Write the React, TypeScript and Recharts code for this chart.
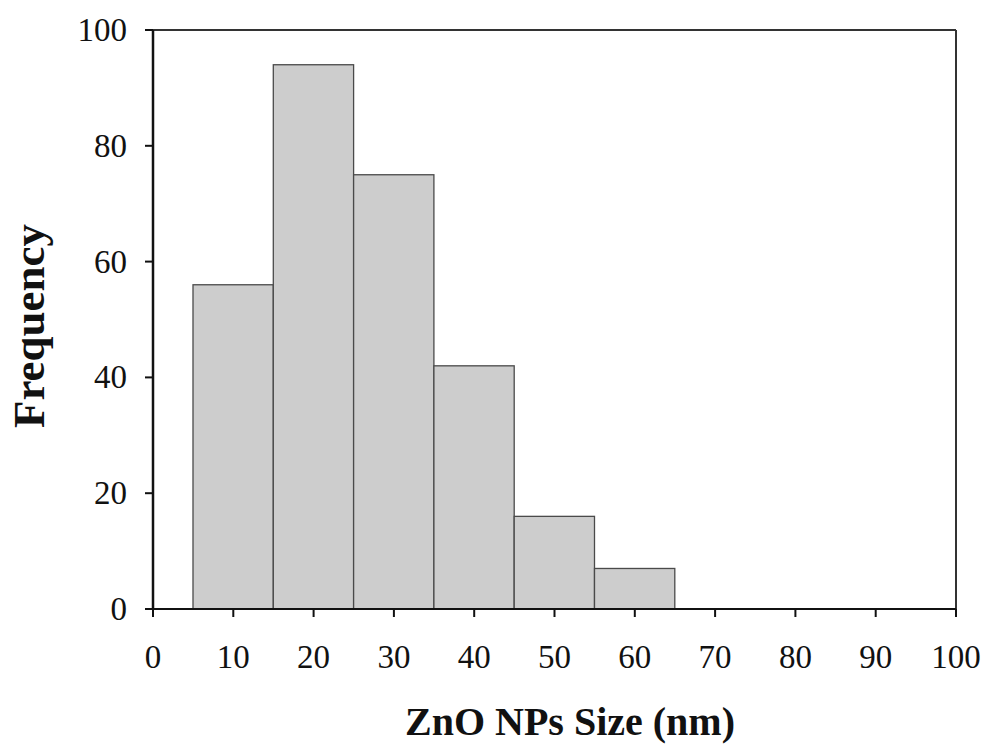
import { BarChart, Bar, XAxis, YAxis, ReferenceLine } from 'recharts';

// histogram bins (bin centres, nm) and counts
const binCenters = [10, 20, 30, 40, 50, 60];
const counts = [56, 94, 75, 42, 16, 7];

const xTicks = [0, 10, 20, 30, 40, 50, 60, 70, 80, 90, 100];
const yTicks = [0, 20, 40, 60, 80, 100];

const data = binCenters.map((size, i) => ({ size, count: counts[i] }));

const FONT = '"Liberation Serif", "Times New Roman", serif';
const WIDTH = 987;
const HEIGHT = 747;
const PLOT_LEFT = 153;
const PLOT_RIGHT = 956;
const BIN_WIDTH = ((PLOT_RIGHT - PLOT_LEFT) / 100) * 10;

const XTick = (props: any) => {
  const { x, payload } = props;
  return (
    <text x={x} y={668} textAnchor="middle" fontFamily={FONT} fontSize={33} fill="#111">
      {payload.value}
    </text>
  );
};

const YTick = (props: any) => {
  const { x, y, payload } = props;
  return (
    <text x={x} y={y + 11} textAnchor="end" fontFamily={FONT} fontSize={33} fill="#111">
      {payload.value}
    </text>
  );
};

// full-width histogram bar centred on the library's bar position
const HistBar = (props: any) => {
  const { x, y, width, height } = props;
  const cx = x + width / 2;
  return (
    <rect
      x={cx - BIN_WIDTH / 2}
      y={y}
      width={BIN_WIDTH}
      height={height}
      fill="#cdcdcd"
      stroke="#4a4a4a"
      strokeWidth={1.3}
    />
  );
};

export default function App() {
  return (
    <div style={{ position: 'absolute', left: 0, top: 0, width: WIDTH, height: HEIGHT, background: '#fff' }}>
      <BarChart
        width={WIDTH}
        height={HEIGHT}
        data={data}
        margin={{ top: 30, right: WIDTH - PLOT_RIGHT, bottom: 0, left: 0 }}
        barCategoryGap="0%"
        barGap={0}
      >
        <XAxis
          type="number"
          dataKey="size"
          domain={[0, 100]}
          ticks={xTicks}
          interval={0}
          height={138}
          tick={<XTick />}
          tickSize={8}
          tickMargin={10}
          axisLine={{ stroke: '#111', strokeWidth: 2 }}
          tickLine={{ stroke: '#111', strokeWidth: 2 }}
          label={{
            content: () => (
              <text x={570} y={735} textAnchor="middle" fontFamily={FONT} fontWeight="bold" fontSize={40} fill="#111">
                ZnO NPs Size (nm)
              </text>
            ),
          }}
        />
        <YAxis
          type="number"
          domain={[0, 100]}
          ticks={yTicks}
          interval={0}
          width={PLOT_LEFT}
          tick={<YTick />}
          tickSize={8}
          tickMargin={18}
          axisLine={{ stroke: '#111', strokeWidth: 2.5 }}
          tickLine={{ stroke: '#111', strokeWidth: 2 }}
          label={{
            content: () => (
              <text
                transform="translate(44, 326) rotate(-90)"
                textAnchor="middle"
                fontFamily={FONT}
                fontWeight="bold"
                fontSize={45}
                fill="#111"
              >
                Frequency
              </text>
            ),
          }}
        />
        <ReferenceLine y={100} stroke="#333" strokeWidth={2} ifOverflow="extendDomain" />
        <ReferenceLine x={100} stroke="#333" strokeWidth={2} ifOverflow="extendDomain" />
        <Bar dataKey="count" shape={<HistBar />} isAnimationActive={false} />
      </BarChart>
    </div>
  );
}
